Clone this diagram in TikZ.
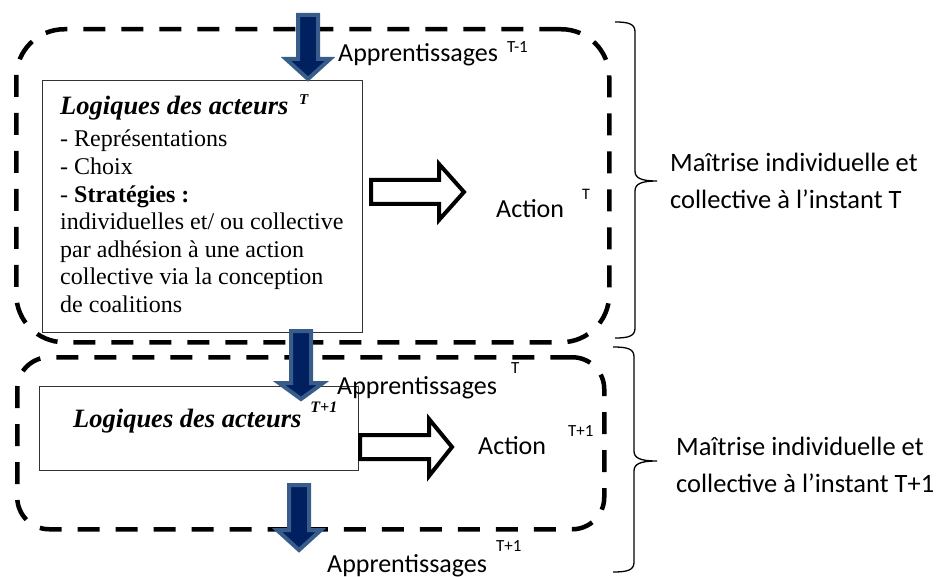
\documentclass[tikz,border=0pt]{standalone}
\usepackage{fontspec}
\setmainfont{Liberation Serif}
\newfontfamily\calfont{Carlito}
\definecolor{navy}{HTML}{002060}
\definecolor{arrowedge}{HTML}{385D8A}
\newcommand\mysup[4]{\hspace{#1}\raisebox{#2}{\fontsize{#3}{#3}\selectfont #4}}
\newcommand\blockdown[4]{%
  \path[bluearrow] ({#1-10},#2) -- ({#1+10},#2) -- ({#1+10},#3) -- ({#1+22},#3)
    -- (#1,#4) -- ({#1-22},#3) -- ({#1-10},#3) -- cycle;}
% brace: #1 end x, #2 spine x, #3 tip x, #4 top, #5 tip y, #6 bottom
\newcommand\rightbrace[6]{%
  \draw[bracestyle] (#1,#4) .. controls ({#2-6},#4) and (#2,{#4+2}) .. (#2,{#4+10})
    -- (#2,{#5-10}) .. controls (#2,{#5-3}) and ({#2+6},#5) .. (#3,#5)
    .. controls ({#2+6},#5) and (#2,{#5+3}) .. (#2,{#5+10})
    -- (#2,{#6-10}) .. controls (#2,{#6-2}) and ({#2-6},#6) .. (#1,#6);}
\tikzset{
  dashedframe/.style={draw=black, line width=4.5pt, dash pattern=on 22pt off 16pt, inner sep=0pt, anchor=north west},
  textbox/.style={draw=black!80, line width=1pt, fill=white, inner sep=0pt, anchor=north west},
  bluearrow/.style={fill=navy, draw=arrowedge, line width=4pt, line join=miter},
  whitearrow/.style={fill=white, draw=black, line width=4pt, line join=miter},
  callabel/.style={font=\calfont\fontsize{26}{30}\selectfont, inner sep=0pt, anchor=base west},
  bracelabel/.style={font=\calfont\fontsize{26.5}{37}\selectfont, inner sep=0pt, align=left, anchor=base west},
  serifbody/.style={font=\fontsize{24}{27.5}\selectfont, inner sep=0pt, align=left, anchor=base west},
  seriftitle/.style={font=\fontsize{26.5}{30}\selectfont\bfseries\itshape, inner sep=0pt, anchor=base west},
  bracestyle/.style={draw=black, line width=1.3pt},
}
\begin{document}
\begin{tikzpicture}[x=1pt,y=-1pt]
\useasboundingbox (0,0) rectangle (944,577);
% dashed frames
\node[dashedframe, rounded corners=48pt, minimum width=593pt, minimum height=313pt] (frame1) at (14,27) {};
\node[dashedframe, rounded corners=32pt, minimum width=587pt, minimum height=172pt] (frame2) at (15,355) {};
% text boxes
\node[textbox, minimum width=320pt, minimum height=252pt] (box1) at (42,80) {};
\node[textbox, minimum width=319pt, minimum height=84pt] (box2) at (39,386) {};
% white block arrows
\path[whitearrow] (371,180) -- (439,180) -- (439,164) -- (464,192) -- (439,220) -- (439,204) -- (371,204) -- cycle;
\path[whitearrow] (360,435) -- (429,435) -- (429,419) -- (452,447) -- (429,476) -- (429,459) -- (360,459) -- cycle;
% blue block arrows
\blockdown{308}{15}{59}{79}
\blockdown{301}{331}{383}{399}
\blockdown{299}{485}{530}{550}
% texts
\node[seriftitle] (title1) at (60,115) {Logiques des acteurs \mysup{4pt}{10pt}{15}{T}};
\node[serifbody] (list1) at (60,312) {- Représentations\\ - Choix\\ - \textbf{Stratégies :}\\ individuelles et/ ou collective\\ par adhésion à une action\\ collective via la conception\\ de coalitions};
\node[seriftitle] (title2) at (73,427) {Logiques des acteurs\mysup{9pt}{15pt}{16}{T+1}};
\node[callabel] (app0) at (338,62) {Apprentissages\mysup{9pt}{9pt}{17}{T-1}};
\node[callabel] (app1) at (337,394) {Apprentissages\mysup{14pt}{21pt}{17}{T}};
\node[callabel] (app2) at (327,572) {Apprentissages\mysup{9pt}{21pt}{17}{T+1}};
\node[callabel] (act1) at (496,218) {Action\mysup{18pt}{18pt}{16}{T}};
\node[callabel] (act2) at (478,454) {Action\mysup{22pt}{18pt}{17}{T+1}};
% braces
\rightbrace{615}{635}{657}{22}{181}{338}
\rightbrace{613}{634}{657}{347}{461}{572}
\node[bracelabel] (m1) at (670,209) {Maîtrise individuelle et\\collective à l’instant T};
\node[bracelabel] (m2) at (676,492) {Maîtrise individuelle et\\collective à l’instant T+1};
\end{tikzpicture}
\end{document}
